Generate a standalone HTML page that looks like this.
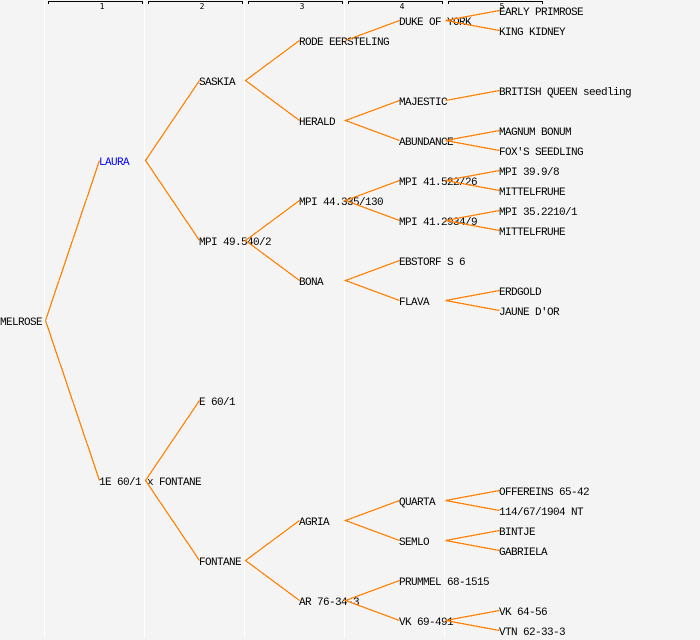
<!DOCTYPE html>
<html>
<head>
<meta charset="utf-8">
<style>
html,body{margin:0;padding:0;background:#f4f4f4;width:700px;height:640px;overflow:hidden}
svg{display:block}
text{font-family:"Liberation Mono","DejaVu Sans Mono",monospace;font-size:11px;letter-spacing:-0.6px;fill:#000;text-rendering:optimizeSpeed;white-space:pre}
.n{font-family:"DejaVu Sans Mono","Liberation Mono",monospace;font-size:8px;letter-spacing:0;text-anchor:middle}
</style>
</head>
<body>
<svg width="700" height="640" viewBox="0 0 700 640" xmlns="http://www.w3.org/2000/svg">
<rect x="0" y="0" width="700" height="640" fill="#f4f4f4"/>
<g fill="#fff">
<rect x="44" y="0" width="1" height="638"/>
<rect x="144" y="0" width="1" height="638"/>
<rect x="244" y="0" width="1" height="638"/>
<rect x="344" y="0" width="1" height="638"/>
<rect x="444" y="0" width="1" height="638"/>
</g>
<g fill="none" stroke="#000" stroke-width="1" shape-rendering="crispEdges">
<path d="M48.5 4V1.5H142.5V4"/>
<path d="M148.5 4V1.5H242.5V4"/>
<path d="M248.5 4V1.5H342.5V4"/>
<path d="M348.5 4V1.5H442.5V4"/>
<path d="M448.5 4V1.5H542.5V4"/>
</g>
<g class="labels">
<text class="n" x="102" y="9">1</text>
<text class="n" x="202" y="9">2</text>
<text class="n" x="302" y="9">3</text>
<text class="n" x="402" y="9">4</text>
<text class="n" x="502" y="9">5</text>

<text x="0" y="325">MELROSE</text>
<text x="99" y="165" style="fill:#0000ff">LAURA</text>
<text x="99" y="485">1E 60/1 x FONTANE</text>

<text x="199" y="85">SASKIA</text>
<text x="199" y="245">MPI 49.540/2</text>
<text x="199" y="405">E 60/1</text>
<text x="199" y="565">FONTANE</text>

<text x="299" y="45">RODE EERSTELING</text>
<text x="299" y="125">HERALD</text>
<text x="299" y="205">MPI 44.335/130</text>
<text x="299" y="285">BONA</text>
<text x="299" y="525">AGRIA</text>
<text x="299" y="605">AR 76-34-3</text>

<text x="399" y="25">DUKE OF YORK</text>
<text x="399" y="105">MAJESTIC</text>
<text x="399" y="145">ABUNDANCE</text>
<text x="399" y="185">MPI 41.522/26</text>
<text x="399" y="225">MPI 41.2934/9</text>
<text x="399" y="265">EBSTORF S 6</text>
<text x="399" y="305">FLAVA</text>
<text x="399" y="505">QUARTA</text>
<text x="399" y="545">SEMLO</text>
<text x="399" y="585">PRUMMEL 68-1515</text>
<text x="399" y="625">VK 69-491</text>

<text x="499" y="15">EARLY PRIMROSE</text>
<text x="499" y="35">KING KIDNEY</text>
<text x="499" y="95">BRITISH QUEEN seedling</text>
<text x="499" y="135">MAGNUM BONUM</text>
<text x="499" y="155">FOX'S SEEDLING</text>
<text x="499" y="175">MPI 39.9/8</text>
<text x="499" y="195">MITTELFRUHE</text>
<text x="499" y="215">MPI 35.2210/1</text>
<text x="499" y="235">MITTELFRUHE</text>
<text x="499" y="295">ERDGOLD</text>
<text x="499" y="315">JAUNE D'OR</text>
<text x="499" y="495">OFFEREINS 65-42</text>
<text x="499" y="515">114/67/1904 NT</text>
<text x="499" y="535">BINTJE</text>
<text x="499" y="555">GABRIELA</text>
<text x="499" y="615">VK 64-56</text>
<text x="499" y="635">VTN 62-33-3</text>
</g>
<g fill="none" stroke="#ff8000" stroke-width="1.25" shape-rendering="crispEdges">
<path d="M99.5 160.5L45.5 320.5L99.5 480.5"/>
<path d="M199.5 80.5L145.5 160.5L199.5 240.5"/>
<path d="M199.5 400.5L145.5 480.5L199.5 560.5"/>
<path d="M299.5 40.5L245.5 80.5L299.5 120.5"/>
<path d="M299.5 200.5L245.5 240.5L299.5 280.5"/>
<path d="M299.5 520.5L245.5 560.5L299.5 600.5"/>
<path d="M399.5 20.5L345.5 40.5"/>
<path d="M399.5 100.5L345.5 120.5L399.5 140.5"/>
<path d="M399.5 180.5L345.5 200.5L399.5 220.5"/>
<path d="M399.5 260.5L345.5 280.5L399.5 300.5"/>
<path d="M399.5 500.5L345.5 520.5L399.5 540.5"/>
<path d="M399.5 580.5L345.5 600.5L399.5 620.5"/>
<path d="M499.5 10.5L445.5 20.5L499.5 30.5"/>
<path d="M499.5 90.5L445.5 100.5"/>
<path d="M499.5 130.5L445.5 140.5L499.5 150.5"/>
<path d="M499.5 170.5L445.5 180.5L499.5 190.5"/>
<path d="M499.5 210.5L445.5 220.5L499.5 230.5"/>
<path d="M499.5 290.5L445.5 300.5L499.5 310.5"/>
<path d="M499.5 490.5L445.5 500.5L499.5 510.5"/>
<path d="M499.5 530.5L445.5 540.5L499.5 550.5"/>
<path d="M499.5 610.5L445.5 620.5L499.5 630.5"/>
</g>
</svg>
</body>
</html>
